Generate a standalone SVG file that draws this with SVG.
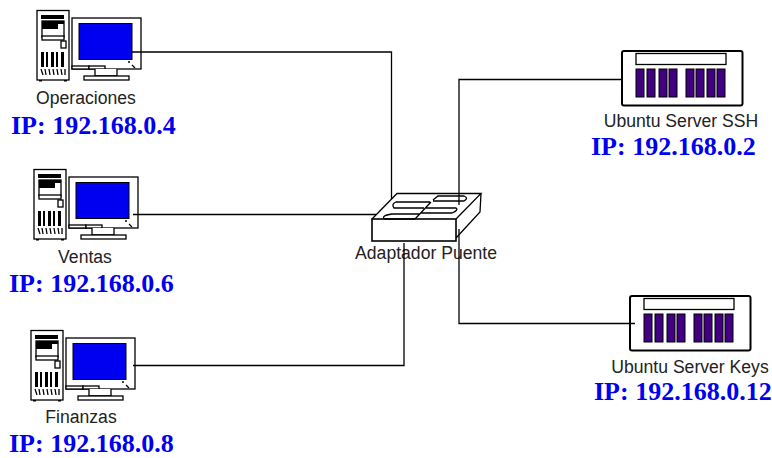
<svg xmlns="http://www.w3.org/2000/svg" width="772" height="458" viewBox="0 0 772 458">
<style>
.l{font-family:"Liberation Sans",Arial,sans-serif;font-size:17.600px;fill:#222}
.ip{font-family:"Liberation Serif","Times New Roman",serif;font-size:26px;font-weight:bold;fill:#0000f0}
.c{fill:none;stroke:#000;stroke-width:1.300}
.o{fill:#fff;stroke:#000;stroke-width:1.300}
.k{fill:none;stroke:#000;stroke-width:1.300}
.b{fill:#400080;stroke:#000;stroke-width:1}
.f{fill:#000}
</style>
<defs>
<g id="pc">
<rect class="o" x="37" y="10.500" width="32" height="69.500" stroke-width="2"/>
<path class="f" d="M39 80h3v1.500h-3zM64 80h3v1.500h-3z"/>
<rect class="f" x="41" y="15" width="23" height="4"/>
<rect class="o" x="42" y="21" width="22" height="16"/>
<rect class="f" x="42" y="21" width="16" height="8"/>
<rect class="f" x="42" y="21" width="22" height="3"/>
<rect class="o" x="42" y="36" width="22" height="4"/>
<rect class="o" x="61" y="41" width="5" height="7"/>
<rect class="f" x="41" y="52" width="3" height="15"/>
<rect class="f" x="46" y="52" width="2" height="15"/>
<rect class="f" x="51" y="52" width="3" height="15"/>
<rect class="f" x="56" y="52" width="2" height="15"/>
<rect class="f" x="61" y="52" width="3" height="15"/>
<path class="k" d="M41 69l2 6M45 69l1 6M49 69l1 6M53 69l1 6M57 69l1 6M61 69l1 6M65 69v6" stroke-width="1.600"/>
<rect class="o" x="72" y="18" width="69" height="51"/>
<rect x="79" y="23.500" width="53" height="36" fill="#0000f0" stroke="#000" stroke-width="1"/>
<path class="k" d="M128 62h2M132 65l3 3"/>
<rect class="o" x="72" y="66" width="17" height="3" fill="#ccc"/>
<rect class="o" x="89" y="66" width="16" height="3"/>
<path class="o" d="M95 69v7h22v-7"/>
<rect class="o" x="84" y="76" width="45" height="4"/>
</g>
<g id="srv">
<rect x="1" y="1" width="120.500" height="54.500" rx="2" fill="#fff" stroke="#000" stroke-width="2"/>
<rect class="o" x="15" y="3.500" width="90" height="11"/>
<rect class="b" x="15" y="19" width="8" height="28"/>
<rect class="b" x="26" y="19" width="8" height="28"/>
<rect class="b" x="38" y="19" width="8" height="28"/>
<rect class="b" x="48" y="19" width="8" height="28"/>
<rect class="b" x="65" y="19" width="8" height="28"/>
<rect class="b" x="75" y="19" width="8" height="28"/>
<rect class="b" x="86" y="19" width="8" height="28"/>
<rect class="b" x="96" y="19" width="8" height="28"/>
</g>
</defs>
<g id="operaciones">
<use href="#pc"/>
<text class="l" x="86" y="104" text-anchor="middle">Operaciones</text>
<text class="ip" x="11" y="134">IP: 192.168.0.4</text>
</g>
<g id="ventas">
<use href="#pc" x="-3" y="159"/>
<text class="l" x="85" y="263" text-anchor="middle">Ventas</text>
<text class="ip" x="9" y="292">IP: 192.168.0.6</text>
</g>
<g id="finanzas">
<use href="#pc" x="-6" y="320"/>
<text class="l" x="81" y="423" text-anchor="middle">Finanzas</text>
<text class="ip" x="9" y="452">IP: 192.168.0.8</text>
</g>
<g id="adaptador">
<path class="k" d="M372 219L397 193.500H481L456 219M481 193.500L480 212L456 238"/>
<rect x="372" y="219" width="84" height="22" fill="none" stroke="#000" stroke-width="1.600"/>
<path class="k" d="M430 202H396Q391 204 394 208H424M433 200L438 196H464Q469 198 464 201H433M426 208H456Q459 210 452 213H421M420 214H392Q380 216 385 219H415M431 202L415 219" stroke-width="1.100"/>
<text class="l" x="426" y="259" text-anchor="middle">Adaptador Puente</text>
</g>
<g id="ssh">
<use href="#srv" x="621" y="50"/>
<text class="l" x="681" y="127" text-anchor="middle">Ubuntu Server SSH</text>
<text class="ip" x="591" y="155">IP: 192.168.0.2</text>
</g>
<g id="keys">
<use href="#srv" x="629" y="295"/>
<text class="l" x="690" y="373" text-anchor="middle">Ubuntu Server Keys</text>
<text class="ip" x="594" y="400">IP: 192.168.0.12</text>
</g>
<g id="connectors">
<path class="c" d="M132 52H391.500V199"/>
<path class="c" d="M133 214.500H376"/>
<path class="c" d="M133 365.500H404V243"/>
<path class="c" d="M622 79.500H459V205"/>
<path class="c" d="M635 323.500H459V229"/>
</g>
</svg>
